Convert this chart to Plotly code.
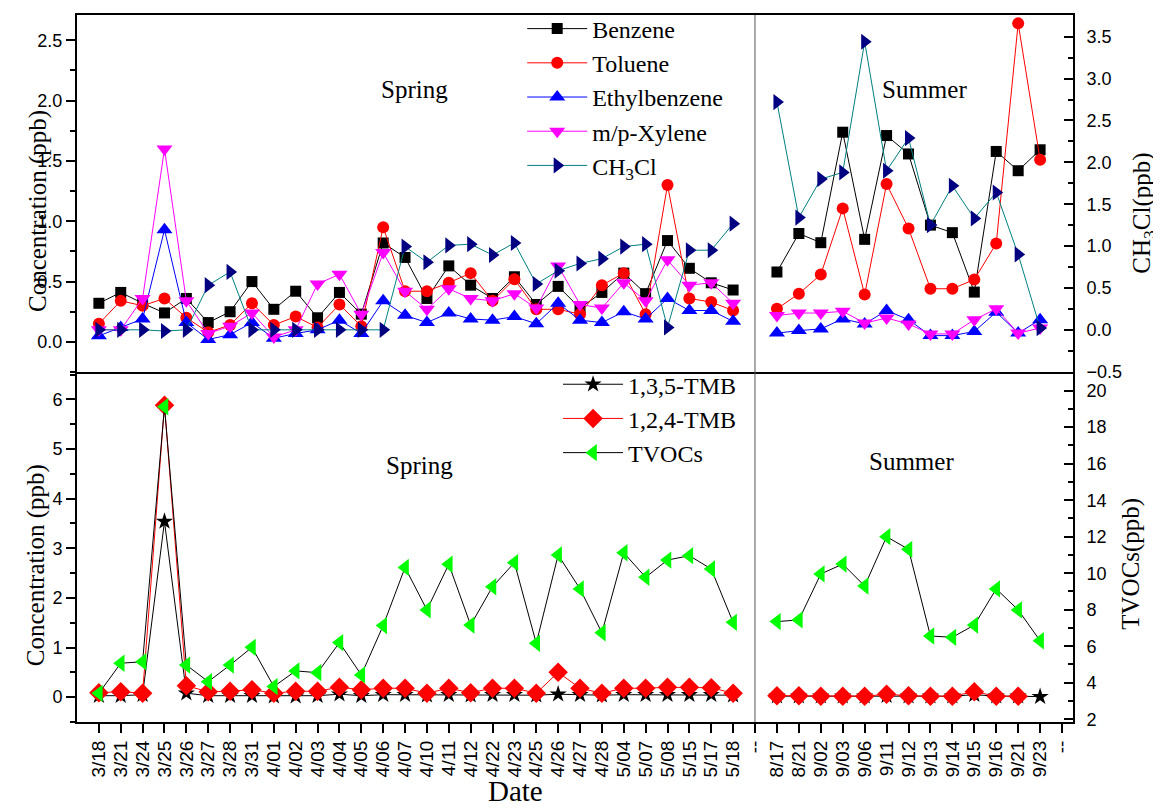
import plotly.graph_objects as go

# ---------------- data ----------------
spring_dates = ["3/18","3/21","3/24","3/25","3/26","3/27","3/28","3/31","4/01","4/02",
                "4/03","4/04","4/05","4/06","4/07","4/10","4/11","4/12","4/22","4/23",
                "4/25","4/26","4/27","4/28","5/04","5/07","5/08","5/15","5/17","5/18"]
summer_dates = ["8/17","8/21","9/02","9/03","9/06","9/11","9/12","9/13","9/14","9/15",
                "9/16","9/21","9/23"]

benzene_sp = [0.32,0.41,0.32,0.24,0.36,0.16,0.25,0.50,0.27,0.42,0.20,0.41,0.23,0.82,0.70,
              0.36,0.63,0.47,0.36,0.54,0.31,0.46,0.28,0.41,0.57,0.40,0.84,0.61,0.49,0.43]
toluene_sp = [0.15,0.34,0.30,0.36,0.20,0.08,0.14,0.32,0.14,0.21,0.12,0.31,0.13,0.95,0.42,
              0.42,0.49,0.57,0.34,0.52,0.27,0.27,0.23,0.47,0.57,0.23,1.30,0.36,0.33,0.26]
ethyl_sp = [0.05,0.12,0.19,0.93,0.16,0.02,0.06,0.16,0.03,0.07,0.10,0.18,0.07,0.34,0.22,
            0.16,0.24,0.19,0.18,0.21,0.15,0.32,0.18,0.16,0.25,0.19,0.36,0.26,0.26,0.17]
xylene_sp = [0.10,0.10,0.36,1.60,0.34,0.07,0.13,0.24,0.04,0.10,0.48,0.56,0.23,0.74,0.42,
             0.27,0.44,0.36,0.34,0.40,0.28,0.63,0.31,0.28,0.49,0.34,0.68,0.47,0.49,0.32]
ch3cl_sp = [0.10,0.10,0.10,0.09,0.10,0.47,0.58,0.10,0.10,0.10,0.10,0.10,0.10,0.10,0.79,
            0.66,0.80,0.81,0.72,0.82,0.48,0.59,0.65,0.69,0.79,0.81,0.12,0.76,0.76,0.98]

benzene_su = [0.69,1.15,1.04,2.36,1.08,2.32,2.10,1.25,1.16,0.45,2.13,1.90,2.15]
toluene_su = [0.25,0.43,0.66,1.45,0.42,1.74,1.21,0.49,0.49,0.60,1.03,3.66,2.03]
ethyl_su = [-0.04,-0.01,0.01,0.13,0.07,0.23,0.12,-0.07,-0.07,-0.02,0.21,-0.04,0.12]
xylene_su = [0.17,0.20,0.20,0.22,0.08,0.14,0.07,-0.05,-0.05,0.12,0.25,-0.04,0.02]
ch3cl_su = [2.72,1.34,1.80,1.88,3.44,1.90,2.29,1.25,1.72,1.33,1.64,0.90,0.02]

tmb135_sp = [0.03,0.03,0.05,3.54,0.08,0.03,0.03,0.03,0.02,0.02,0.03,0.06,0.03,0.05,0.05,
             0.04,0.05,0.04,0.05,0.05,0.04,0.06,0.05,0.04,0.05,0.05,0.05,0.05,0.05,0.04]
tmb124_sp = [0.09,0.11,0.08,5.88,0.23,0.11,0.12,0.15,0.08,0.12,0.12,0.20,0.15,0.18,0.18,
             0.08,0.18,0.09,0.18,0.18,0.08,0.50,0.18,0.08,0.18,0.18,0.20,0.20,0.19,0.08]
tvoc_sp = [3.42,5.07,5.15,19.12,4.97,4.06,4.97,5.94,3.79,4.65,4.55,6.20,4.43,7.13,10.32,
           7.99,10.49,7.16,9.26,10.58,6.16,11.00,9.14,6.74,11.12,9.78,10.72,10.96,10.23,7.31]

tmb135_su = [0.02,0.02,0.02,0.02,0.02,0.03,0.02,0.02,0.02,0.05,0.02,0.02,0.01]
tmb124_su = [0.03,0.03,0.02,0.02,0.02,0.06,0.03,0.02,0.02,0.11,0.02,0.02,None]
tvoc_su = [7.35,7.44,9.96,10.50,9.30,12.00,11.31,6.56,6.49,7.16,9.14,7.99,6.30]

# ---------------- positions (from data index) ----------------
xs_sp = list(range(1, len(spring_dates) + 1))
xs_su = list(range(1, len(summer_dates) + 1))

SERIF = "Liberation Serif"
SANS = "Liberation Sans"

fig = go.Figure()

def add(x, y, name, xa, ya, lcolor, mcolor, symbol, size, legend=None, show=False):
    fig.add_trace(go.Scatter(
        x=x, y=y, name=name, mode="lines+markers", xaxis=xa, yaxis=ya,
        line=dict(color=lcolor, width=1),
        marker=dict(color=mcolor, symbol=symbol, size=size, line=dict(width=0)),
        showlegend=show, legend=legend if legend else "legend",
        connectgaps=False, hoverinfo="skip"))

# top panel, spring
add(xs_sp, benzene_sp, "Benzene", "x", "y", "black", "black", "square", 11, "legend", True)
add(xs_sp, toluene_sp, "Toluene", "x", "y", "red", "red", "circle", 12, "legend", True)
add(xs_sp, ethyl_sp, "Ethylbenzene", "x", "y", "blue", "blue", "triangle-up", 14, "legend", True)
add(xs_sp, xylene_sp, "m/p-Xylene", "x", "y", "magenta", "magenta", "triangle-down", 14, "legend", True)
add(xs_sp, ch3cl_sp, "CH<sub>3</sub>Cl", "x", "y", "#008080", "#000080", "triangle-right", 14, "legend", True)
# top panel, summer
add(xs_su, benzene_su, "Benzene", "x2", "y2", "black", "black", "square", 11)
add(xs_su, toluene_su, "Toluene", "x2", "y2", "red", "red", "circle", 12)
add(xs_su, ethyl_su, "Ethylbenzene", "x2", "y2", "blue", "blue", "triangle-up", 14)
add(xs_su, xylene_su, "m/p-Xylene", "x2", "y2", "magenta", "magenta", "triangle-down", 14)
add(xs_su, ch3cl_su, "CH3Cl", "x2", "y2", "#008080", "#000080", "triangle-right", 14)
# bottom panel, spring
add(xs_sp, tmb135_sp, "1,3,5-TMB", "x3", "y3", "black", "black", "star", 13, "legend2", True)
add(xs_sp, tmb124_sp, "1,2,4-TMB", "x3", "y3", "red", "red", "diamond", 15, "legend2", True)
add(xs_sp, tvoc_sp, "TVOCs", "x3", "y4", "black", "#00FF00", "triangle-left", 15, "legend2", True)
# bottom panel, summer
add(xs_su, tmb135_su, "1,3,5-TMB", "x4", "y3", "black", "black", "star", 13)
add(xs_su, tmb124_su, "1,2,4-TMB", "x4", "y3", "red", "red", "diamond", 15)
add(xs_su, tvoc_su, "TVOCs", "x4", "y4", "black", "#00FF00", "triangle-left", 15)

XD = 0.6807   # spring/summer split
YD = 0.4950   # top/bottom split

tickfont = dict(family=SANS, size=18, color="black")
common_x = dict(showgrid=False, zeroline=False, color="black", automargin=False)
common_y = dict(showgrid=False, zeroline=False, showline=True, linecolor="black",
                linewidth=2, tickfont=tickfont, tickwidth=1.5, ticklen=9, color="black",
                automargin=False)

su_ticks = [0] + xs_su + [len(summer_dates) + 1]
su_text = ["--"] + summer_dates + ["--"]

fig.update_layout(
    width=1153, height=801,
    margin=dict(l=69, r=88, t=7, b=87, autoexpand=False),
    paper_bgcolor="white", plot_bgcolor="rgba(0,0,0,0)",
    xaxis=dict(domain=[0, XD], range=[0, len(spring_dates) + 1], anchor="y",
               showline=True, linecolor="black", linewidth=1.5, mirror=True,
               showticklabels=False, ticks="", **common_x),
    xaxis2=dict(domain=[XD, 1], range=[-0.001, len(summer_dates) + 1.5], anchor="y2",
                showline=True, linecolor="black", linewidth=1.5, mirror=True,
                showticklabels=False, ticks="", **common_x),
    xaxis3=dict(domain=[0, XD], range=[0, len(spring_dates) + 1], anchor="y3",
                showline=True, linecolor="black", linewidth=2,
                tickmode="array", tickvals=xs_sp, ticktext=spring_dates, tickangle=-90,
                ticks="outside", ticklen=9, tickwidth=1.5,
                tickfont=dict(family=SANS, size=19, color="black"), **common_x),
    xaxis4=dict(domain=[XD, 1], range=[-0.001, len(summer_dates) + 1.5], anchor="y4",
                showline=True, linecolor="black", linewidth=2,
                tickmode="array", tickvals=su_ticks, ticktext=su_text, tickangle=-90,
                ticks="outside", ticklen=9, tickwidth=1.5,
                tickfont=dict(family=SANS, size=19, color="black"), **common_x),
    yaxis=dict(domain=[YD, 1], range=[-0.25, 2.71], anchor="x", side="left",
               tickmode="linear", tick0=0, dtick=0.5, tickformat=".1f", ticks="outside",
               minor=dict(ticks="outside", ticklen=5, tickwidth=1.5, tick0=0, dtick=0.25,
                          showgrid=False, tickcolor="black"),
               **common_y),
    yaxis2=dict(domain=[YD, 1], range=[-0.505, 3.76], anchor="x2", side="right",
                tickmode="linear", tick0=0, dtick=0.5, tickformat=".1f", ticks="inside",
                ticklabelstandoff=8,
                minor=dict(ticks="inside", ticklen=5, tickwidth=1.5, tick0=0, dtick=0.25,
                           showgrid=False, tickcolor="black"),
                **common_y),
    yaxis3=dict(domain=[0, YD], range=[-0.5, 6.55], anchor="x3", side="left",
                tickmode="linear", tick0=0, dtick=1, ticks="outside",
                minor=dict(ticks="outside", ticklen=5, tickwidth=1.5, tick0=0, dtick=0.5,
                           showgrid=False, tickcolor="black"),
                **common_y),
    yaxis4=dict(domain=[0, YD], range=[1.85, 21.02], anchor="x4", side="right",
                tickmode="linear", tick0=0, dtick=2, ticks="inside",
                ticklabelstandoff=8,
                minor=dict(ticks="inside", ticklen=5, tickwidth=1.5, tick0=0, dtick=1,
                           showgrid=False, tickcolor="black"),
                **common_y),
    legend=dict(x=0.447, y=1.012, xanchor="left", yanchor="top",
                bgcolor="rgba(0,0,0,0)", font=dict(family=SERIF, size=24, color="black"),
                itemwidth=60, tracegroupgap=0),
    legend2=dict(x=0.483, y=0.509, xanchor="left", yanchor="top",
                 bgcolor="rgba(0,0,0,0)", font=dict(family=SERIF, size=24, color="black"),
                 itemwidth=60, tracegroupgap=0),
    showlegend=True,
)

# divider between spring and summer
fig.add_shape(type="line", xref="paper", yref="paper", x0=XD, x1=XD, y0=0, y1=1,
              line=dict(color="#555555", width=1))

annos = [
    dict(text="Spring", x=0.339, y=0.894),
    dict(text="Summer", x=0.851, y=0.894),
    dict(text="Spring", x=0.344, y=0.3635),
    dict(text="Summer", x=0.838, y=0.368),
    dict(text="Concentration (ppb)", x=-0.039, y=0.723, textangle=-90),
    dict(text="Concentration (ppb)", x=-0.041, y=0.222, textangle=-90),
    dict(text="CH<sub>3</sub>Cl(ppb)", x=1.071, y=0.72, textangle=-90),
    dict(text="TVOCs(ppb)", x=1.058, y=0.2235, textangle=-90),
    dict(text="Date", x=0.44, y=-0.0976, size=29),
]
for a in annos:
    size = a.pop("size", 25)
    fig.add_annotation(xref="paper", yref="paper", xanchor="center", yanchor="middle",
                       showarrow=False, font=dict(family=SERIF, size=size, color="black"), **a)

fig.write_html("out.html", config={"displayModeBar": False})
